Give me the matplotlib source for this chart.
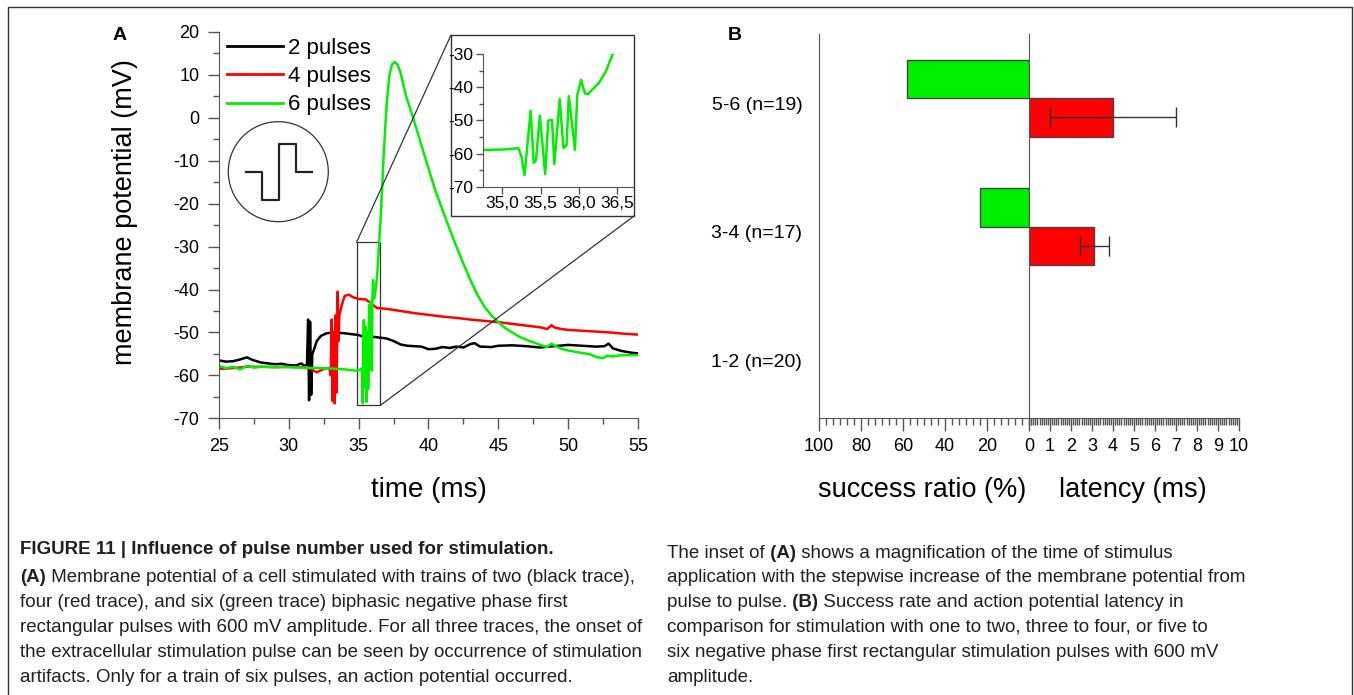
import numpy as np
import matplotlib
matplotlib.use("Agg")
import matplotlib.pyplot as plt
from matplotlib.patches import Ellipse, Rectangle, ConnectionPatch
from matplotlib.text import Annotation
from matplotlib.ticker import MultipleLocator, FixedLocator, FuncFormatter

plt.rcParams['font.family'] = ['Liberation Sans', 'DejaVu Sans']
plt.rcParams['axes.unicode_minus'] = False

# ---- data: panel A traces (time in ms, membrane potential in mV) ----
black_t = [25, 25.5, 26, 26.5, 27.0, 27.4, 28, 28.5, 29, 29.5, 30, 30.5, 30.9, 31.1, 31.3,
           31.38, 31.45, 31.52, 31.6, 31.68, 31.8, 32.0, 32.3, 32.7, 33.2, 34, 35, 35.5, 36, 36.5,
           37.0, 37.5, 38.0, 38.5, 39, 39.5, 40, 40.5, 41, 41.5, 42, 42.5, 43, 43.3, 43.7, 44.5,
           45, 46, 47, 48, 49, 50, 51, 52, 52.6, 52.9, 53.2, 53.8, 54.5, 55]
black_v = [-56.5, -56.8, -56.7, -56.3, -55.8, -56.4, -57.0, -57.2, -57.4, -57.3, -57.6, -57.7,
           -57.2, -57.8, -57.5, -47.0, -65.8, -47.5, -64.5, -55.0, -54.0, -52.0, -50.8, -50.2,
           -50.0, -50.2, -50.6, -51.2, -51.0, -51.2, -51.4, -52.0, -52.8, -53.1, -53.2, -53.3,
           -53.9, -53.8, -53.4, -53.6, -53.3, -53.5, -52.7, -52.5, -53.3, -53.4, -53.1, -53.0,
           -53.2, -53.5, -53.2, -52.9, -53.1, -53.3, -53.2, -52.6, -53.7, -54.3, -54.7, -54.9]

red_t = [25, 26, 27, 28, 29, 30, 31, 31.6, 32.0, 32.3, 32.6, 32.9, 33.0, 33.07, 33.14, 33.21,
         33.28, 33.35, 33.42, 33.5, 33.56, 33.62, 33.8, 34.0, 34.3, 34.6, 35.0, 35.5, 36.0, 36.3,
         37, 38, 39, 40, 41, 42, 43, 44, 45, 46, 47, 48, 48.5, 48.8, 49.0, 49.5, 50, 51, 52, 53,
         54, 55]
red_v = [-58.5, -58.3, -58.0, -58.0, -58.1, -58.0, -58.1, -58.5, -59.3, -58.8, -58.4, -58.3,
         -60.0, -47.0, -66.0, -50.0, -66.5, -46.0, -64.0, -40.5, -52.0, -46.0, -43.5, -41.5,
         -41.2, -41.8, -42.2, -42.3, -43.5, -44.3, -44.5, -45.0, -45.5, -45.9, -46.3, -46.6,
         -47.0, -47.3, -47.6, -48.0, -48.4, -48.8, -49.2, -48.3, -48.8, -49.2, -49.4, -49.6,
         -49.8, -50.0, -50.3, -50.5]

green_t = [25, 25.5, 26, 26.5, 27, 27.5, 28, 29, 30, 31, 32, 33, 34, 34.75, 35.0, 35.21, 35.25,
           35.29, 35.37, 35.41, 35.44, 35.49, 35.56, 35.60, 35.65, 35.68, 35.75, 35.80, 35.84,
           35.87, 35.95, 35.98, 36.03, 36.08, 36.12, 36.26, 36.35, 36.44, 36.6, 36.8, 37.0, 37.2,
           37.4, 37.6, 37.8, 38.0, 38.4, 38.8, 39.2, 39.6, 40.0, 40.5, 41.0, 41.5, 42.0, 42.5,
           43.0, 43.5, 44.0, 44.5, 45.0, 45.5, 46.0, 46.5, 47.0, 47.5, 48.0, 48.5, 48.8, 49.0,
           49.5, 50.0, 50.5, 51.0, 51.5, 52.0, 52.5, 52.8, 53.2, 53.5, 54.0, 55.0]
green_v = [-57.8, -58.3, -58.0, -58.6, -57.8, -58.2, -58.0, -58.0, -58.1, -58.2, -58.3, -58.4,
           -58.6, -58.9, -58.8, -58.4, -61.0, -66.5, -47.1, -62.8, -62.0, -48.6, -66.2, -50.1,
           -49.9, -63.2, -43.6, -58.4, -57.4, -42.7, -58.9, -42.4, -37.8, -41.9, -42.1, -38.8,
           -35.5, -30.3, -22, -8, 3, 10, 12.5, 13, 12.3, 10.5, 5, 1, -3.2, -7.5, -11.8, -17,
           -21.5, -25.8, -30, -34, -37.8, -41.2, -44.0, -46.0, -47.6, -49.0, -50.0, -51.0, -51.7,
           -52.3, -52.9, -53.4, -52.6, -53.0, -53.8, -54.2, -54.5, -54.8, -55.0, -55.7, -56.0,
           -55.4, -55.6, -55.4, -55.3, -55.3]

trace_labels = ['2 pulses', '4 pulses', '6 pulses']

# ---- data: panel B ----
groups = ['1-2 (n=20)', '3-4 (n=17)', '5-6 (n=19)']
success = [0.0, 23.5, 57.9]        # %
latency = [0.0, 3.1, 4.0]          # ms
latency_err = [0.0, 0.69, 3.0]     # ms

W, H = 1354, 695
def fx(px):
    return px / W
def fy(py):
    return 1 - py / H

GREEN = '#00f000'
RED = '#ff0000'
EDGE = '#444444'
SPINE = '#555555'

fig = plt.figure(figsize=(W / 100, H / 100), dpi=100)

# ================= Panel A =================
ax = fig.add_axes([fx(219), fy(418.3), (638 - 219) / W, (418.3 - 32) / H])
ax.plot(black_t, black_v, color='black', lw=1.8, label=trace_labels[0])
ax.plot(red_t, red_v, color=RED, lw=1.8, label=trace_labels[1])
ax.plot(green_t, green_v, color=GREEN, lw=1.8, label=trace_labels[2])
ax.set_xlim(25, 55)
ax.set_ylim(-70, 20)
ax.xaxis.set_major_locator(MultipleLocator(5))
ax.xaxis.set_minor_locator(MultipleLocator(2.5))
ax.yaxis.set_major_locator(MultipleLocator(10))
ax.yaxis.set_minor_locator(MultipleLocator(5))
for s in ['top', 'right']:
    ax.spines[s].set_visible(False)
for s in ['left', 'bottom']:
    ax.spines[s].set_color(SPINE)
ax.tick_params(which='major', direction='out', length=8, width=1, color=SPINE,
               labelsize=13, pad=6)
ax.tick_params(which='minor', direction='out', length=4.3, width=1, color=SPINE)

leg = ax.legend(loc='upper left', bbox_to_anchor=(0.0184, 0.985), frameon=False, fontsize=16,
                handlelength=2.55, handletextpad=0.22, labelspacing=0.33, borderpad=0,
                borderaxespad=0)
for h in leg.get_lines():
    h.set_linewidth(2)

# stimulus icon (circle with biphasic pulse)
cx, cy = 0.1415, 0.6384
ax.add_patch(Ellipse((cx, cy), 100 / 419, 100 / 386.3, transform=ax.transAxes,
                     fill=False, ec='#333333', lw=0.9))
pulse_dx = np.array([-32.6, -16, -16, 0.7, 0.7, 17.4, 17.4, 33.4])
pulse_dy = np.array([0, 0, -28.3, -28.3, 27.4, 27.4, 0, 0])
ax.plot(cx + pulse_dx / 419, cy + pulse_dy / 386.3, transform=ax.transAxes,
        color='#222222', lw=1.6)

fig.text(fx(120), fy(35), 'A', fontsize=14, fontweight='bold', ha='center', va='center')
fig.text(fx(125), fy(212), 'membrane potential (mV)', fontsize=19.5, rotation=90,
         ha='center', va='center')
fig.text(fx(429), fy(490), 'time (ms)', fontsize=20, ha='center', va='center')

# zoom window box + connectors
zx0, zx1, zy0, zy1 = 34.85, 36.55, -67, -29
ax.add_patch(Rectangle((zx0, zy0), zx1 - zx0, zy1 - zy0, fill=False, ec='#333333', lw=0.9))
fr_l, fr_r, fr_t, fr_b = 451, 634, 35, 216
fig.add_artist(Rectangle((fx(fr_l), fy(fr_b)), (fr_r - fr_l) / W, (fr_b - fr_t) / H,
                         transform=fig.transFigure, fc='white', ec='#333333', lw=1, zorder=1))
fig.add_artist(ConnectionPatch(xyA=(zx0, zy1), coordsA=ax.transData,
                               xyB=(fx(fr_l), fy(fr_t)), coordsB=fig.transFigure,
                               color='#333333', lw=0.9))
fig.add_artist(ConnectionPatch(xyA=(zx1, zy0), coordsA=ax.transData,
                               xyB=(fx(fr_r), fy(fr_b)), coordsB=fig.transFigure,
                               color='#333333', lw=0.9))

# inset
axins = fig.add_axes([fx(483.3), fy(186.7), (633 - 483.3) / W, (186.7 - 54) / H])
axins.set_zorder(3)
axins.plot(green_t, green_v, color=GREEN, lw=1.8)
axins.set_xlim(34.75, 36.71)
axins.set_ylim(-70, -30)
axins.xaxis.set_major_locator(MultipleLocator(0.5))
axins.yaxis.set_major_locator(MultipleLocator(10))
axins.yaxis.set_minor_locator(MultipleLocator(5))
axins.xaxis.set_major_formatter(FuncFormatter(lambda v, p: f"{v:.1f}".replace('.', ',')))
for s in ['top', 'right']:
    axins.spines[s].set_visible(False)
for s in ['left', 'bottom']:
    axins.spines[s].set_color(SPINE)
axins.tick_params(which='major', direction='out', length=5, width=1, color=SPINE,
                  labelsize=12.5, pad=2)
axins.tick_params(which='minor', direction='out', length=3, width=1, color=SPINE)

# ================= Panel B =================
ypos = np.arange(1, len(groups) + 1)
succ = np.array(success)
lat = np.array(latency)
lat_err = np.array(latency_err)
has = succ > 0

axL = fig.add_axes([fx(819), fy(418.3), 210 / W, (418.3 - 34) / H])
axR = fig.add_axes([fx(1029), fy(418.3), 210 / W, (418.3 - 34) / H])
for a in (axL, axR):
    a.set_ylim(0.546, 3.54)
    for s in ['top', 'right']:
        a.spines[s].set_visible(False)
    for s in ['left', 'bottom']:
        a.spines[s].set_color(SPINE)
    a.tick_params(which='major', axis='x', direction='out', length=9.4, width=1,
                  color=SPINE, labelsize=13, pad=5)
    a.tick_params(which='minor', axis='x', direction='out', length=4.8, width=1, color=SPINE)

axL.barh(ypos[has] + 0.19, succ[has], height=0.30, color=GREEN, edgecolor=EDGE, lw=1)
axL.set_xlim(100, 0)
axL.xaxis.set_major_locator(FixedLocator([100, 80, 60, 40, 20]))
axL.xaxis.set_minor_locator(MultipleLocator(20 / 6))
axL.set_yticks(ypos)
axL.set_yticklabels(groups, fontsize=14)
axL.tick_params(axis='y', length=0, pad=12)

axR.barh(ypos[has] - 0.11, lat[has], height=0.30, color=RED, edgecolor=EDGE, lw=1,
         xerr=lat_err[has], error_kw=dict(ecolor='#333333', elinewidth=1, capsize=7, capthick=1))
axR.set_xlim(0, 10)
axR.xaxis.set_major_locator(MultipleLocator(1))
axR.xaxis.set_minor_locator(MultipleLocator(0.1))
axR.set_yticks([])

fig.text(fx(735), fy(35), 'B', fontsize=14, fontweight='bold', ha='center', va='center')
fig.text(fx(922), fy(490), 'success ratio (%)', fontsize=19.5, ha='center', va='center')
fig.text(fx(1133), fy(490), 'latency (ms)', fontsize=19.5, ha='center', va='center')

# ================= frame + caption =================
fig.add_artist(Rectangle((fx(8), -0.05), (1352 - 8) / W, fy(7) + 0.05,
                         transform=fig.transFigure, fill=False, ec='#333333', lw=1))

CAP_FONT = ['Liberation Sans', 'DejaVu Sans']
CAP_SIZE = 13.5
CAP_COLOR = '#231f20'

def caption_line(x_px, y_px, segments):
    prev = None
    for text, bold in segments:
        w = 'bold' if bold else 'normal'
        if prev is None:
            prev = fig.text(fx(x_px), fy(y_px), text, family=CAP_FONT, fontsize=CAP_SIZE,
                            fontweight=w, color=CAP_COLOR, ha='left', va='center')
        else:
            a = Annotation(text, xy=(1, 0), xycoords=prev, ha='left', va='bottom',
                           family=CAP_FONT, fontsize=CAP_SIZE, fontweight=w, color=CAP_COLOR)
            fig.add_artist(a)
            prev = a

left_lines = [
    [("FIGURE 11 | Influence of pulse number used for stimulation.", True)],
    [("(A)", True), (" Membrane potential of a cell stimulated with trains of two (black trace),", False)],
    [("four (red trace), and six (green trace) biphasic negative phase first", False)],
    [("rectangular pulses with 600 mV amplitude. For all three traces, the onset of", False)],
    [("the extracellular stimulation pulse can be seen by occurrence of stimulation", False)],
    [("artifacts. Only for a train of six pulses, an action potential occurred.", False)],
]
right_lines = [
    [("The inset of", False), (" (A)", True), (" shows a magnification of the time of stimulus", False)],
    [("application with the stepwise increase of the membrane potential from", False)],
    [("pulse to pulse.", False), (" (B)", True), (" Success rate and action potential latency in", False)],
    [("comparison for stimulation with one to two, three to four, or five to", False)],
    [("six negative phase first rectangular stimulation pulses with 600 mV", False)],
    [("amplitude.", False)],
]
for i, segs in enumerate(left_lines):
    y = 550 if i == 0 else 577.8 + (i - 1) * 24.8
    caption_line(20, y, segs)
for i, segs in enumerate(right_lines):
    caption_line(667, 553 + i * 24.8, segs)

fig.savefig('out.png', dpi=100)
